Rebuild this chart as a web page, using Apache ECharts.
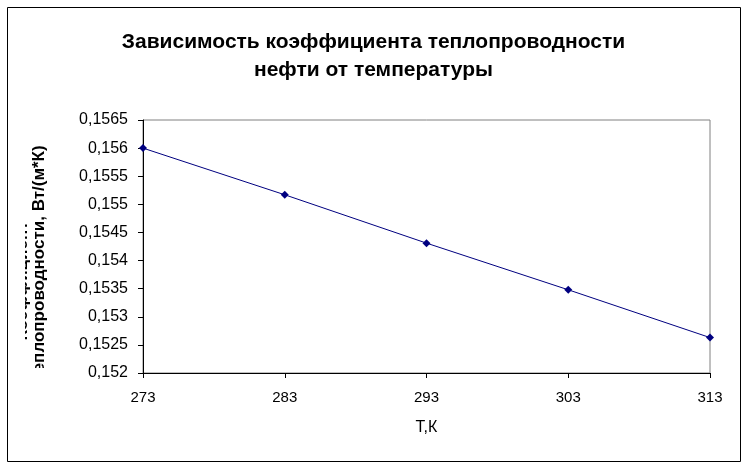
<!DOCTYPE html>
<html>
<head>
<meta charset="utf-8">
<script src="https://cdn.jsdelivr.net/npm/echarts@6/dist/echarts.min.js"></script>
<style>html,body{margin:0;padding:0;background:#fff;}#c{width:747px;height:467px;}</style>
</head>
<body>
<div id="c"></div>
<script>
const temperatures = [273, 283, 293, 303, 313];
const conductivity = [0.156, 0.15517, 0.15431, 0.15348, 0.15263];
const titleLines = ['Зависимость коэффициента теплопроводности', 'нефти от температуры'];
const xAxisTitle = 'Т,К';
const yAxisTitleLines = ['Коэффициент', 'теплопроводности, Вт/(м*К)'];

const chart = echarts.init(document.getElementById('c'), null, {renderer: 'canvas'});
const fontFamily = 'Arial, "Liberation Sans", sans-serif';
const fmt = v => parseFloat(v.toFixed(4)).toString().replace('.', ',');

chart.setOption({
  animation: false,
  backgroundColor: '#ffffff',
  title: {
    text: titleLines.join('\n'),
    left: 'center',
    top: 23,
    textStyle: {fontFamily, fontSize: 21, fontWeight: 'bold', color: '#000', lineHeight: 28}
  },
  grid: {left: 143, right: 37, top: 120, bottom: 94, show: true, borderColor: '#808080', borderWidth: 1},
  xAxis: {
    type: 'value', min: 273, max: 313, interval: 10,
    name: xAxisTitle, nameLocation: 'middle', nameGap: 47,
    nameTextStyle: {fontFamily, fontSize: 16, color: '#000'},
    axisLine: {show: true, lineStyle: {color: '#000', width: 1}},
    axisTick: {show: true, inside: false, length: 5, lineStyle: {color: '#000'}},
    axisLabel: {fontFamily, fontSize: 15, color: '#000', margin: 17},
    splitLine: {show: false}
  },
  yAxis: {
    type: 'value', min: 0.152, max: 0.1565, interval: 0.0005,
    axisLine: {show: true, lineStyle: {color: '#000', width: 1}},
    axisTick: {show: true, inside: false, length: 5, lineStyle: {color: '#000'}},
    axisLabel: {fontFamily, fontSize: 16, color: '#000', margin: 15, formatter: fmt},
    splitLine: {show: false}
  },
  series: [{
    type: 'line',
    data: temperatures.map((t, i) => [t, conductivity[i]]),
    symbol: 'diamond', symbolSize: 8,
    lineStyle: {color: '#000080', width: 1},
    itemStyle: {color: '#000080'},
    clip: false
  }],
  graphic: [
    {type: 'text', x: 31, y: 281, rotation: Math.PI / 2, z: 10,
     style: {text: yAxisTitleLines[0], font: 'bold 17px ' + fontFamily, fill: '#000', textAlign: 'center', textVerticalAlign: 'bottom'}},
    {type: 'text', x: 48, y: 263, rotation: Math.PI / 2, z: 10,
     style: {text: yAxisTitleLines[1], font: 'bold 17px ' + fontFamily, fill: '#000', textAlign: 'center', textVerticalAlign: 'bottom'}},
    {type: 'rect', z: 20, shape: {x: 8, y: 100, width: 17, height: 300}, style: {fill: '#fff'}},
    {type: 'rect', z: 20, shape: {x: 8, y: 368, width: 60, height: 40}, style: {fill: '#fff'}},
    {type: 'rect', z: 30, shape: {x: 7.5, y: 7.5, width: 733, height: 454}, style: {fill: 'none', stroke: '#000', lineWidth: 1}}
  ]
});
</script>
</body>
</html>
